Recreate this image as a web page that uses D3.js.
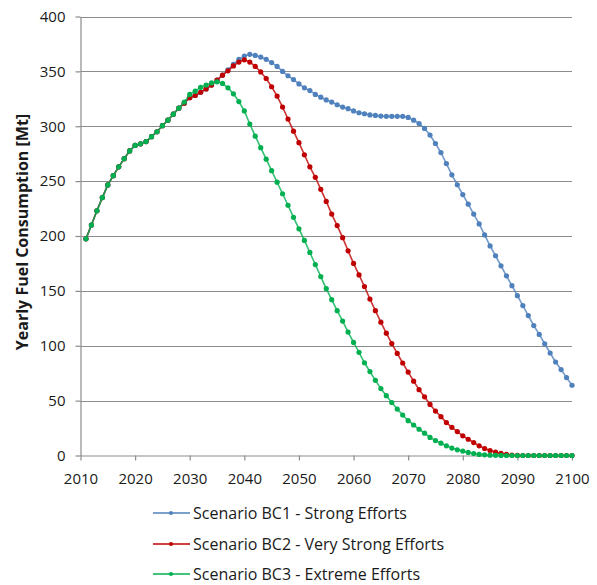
<!DOCTYPE html>
<html>
<head>
<meta charset="utf-8">
<script src="https://cdn.jsdelivr.net/npm/d3@7"></script>
<style>
  html, body { margin: 0; padding: 0; background: #fff; }
  svg text { font-family: "Open Sans", "Noto Sans", sans-serif; fill: #1a1a1a; }
</style>
</head>
<body>
<svg id="chart" width="597" height="585"></svg>
<script>
// ---------- data ----------
const years = d3.range(2011, 2101);

const seriesNames = [
  "Scenario BC1 - Strong Efforts",
  "Scenario BC2 - Very Strong Efforts",
  "Scenario BC3 - Extreme Efforts"
];

const bc1 = [
  197.4, 210, 223, 235, 246.5, 255, 263, 270.5, 277.5, 282.5,       // 2011-2020
  284, 286, 290.5, 295, 300.5, 305.5, 311, 316.5, 321, 326,         // 2021-2030
  328, 331, 334, 337.5, 342, 346.5, 351.5, 356.5, 361, 364,         // 2031-2040
  365.5, 364.5, 363, 361, 358, 354.5, 350, 346, 342.5, 338.6,       // 2041-2050
  335, 332.5, 329, 326.5, 324, 322, 319.6, 317.5, 316, 314,         // 2051-2060
  312.3, 311.4, 310.3, 309.9, 309.3, 309, 309, 309, 309, 308,       // 2061-2070
  305.5, 302.5, 298, 292, 284.3, 276, 266, 255.7, 246.7, 237.7,     // 2071-2080
  229, 220, 211, 201, 191, 182, 172.8, 163.7, 154.7, 145.6,         // 2081-2090
  136.6, 127.5, 118.4, 110.3, 101.8, 93.4, 85.2, 78.3, 71, 64       // 2091-2100
];

const bc2 = [
  197.4, 210, 223, 235, 246.5, 255, 263, 270.5, 277.5, 282.5,
  284, 286, 290.5, 295, 300.5, 305.5, 311, 316.5, 321, 326,
  328, 331, 334, 337.5, 342, 346.5, 350.5, 355, 358.5, 360.5,
  358.5, 354.5, 349.5, 343.5, 336, 327.5, 317.5, 306.5, 295.5, 285,
  274, 263, 253.5, 242.5, 231.5, 220, 209.5, 198.5, 186.5, 175,
  164.5, 154, 142.5, 132, 121.5, 111.5, 102, 93, 84.3, 76,
  67.7, 60, 53.5, 46.5, 40.5, 35.4, 30, 25.7, 21.8, 17.9,
  14.8, 11.8, 8.8, 6.4, 4.5, 3.0, 2.0, 1.0, 0.4, 0.1,
  0, 0, 0, 0, 0, 0, 0, 0, 0, 0
];

const bc3 = [
  197.4, 210, 223, 235, 246.5, 255, 263, 270.5, 277.5, 282.5,
  284, 286, 290.5, 295, 300.5, 305.5, 311, 316.5, 322, 329,
  332, 335.5, 337.5, 339.5, 340.5, 339, 335, 329.5, 322.5, 314,
  302, 291, 280.5, 270, 259.5, 249, 238.5, 228, 217, 206.5,
  196, 185, 174, 163, 152, 142, 132, 122.5, 112.5, 103,
  94, 84.5, 76.5, 68.5, 61, 54.5, 48.3, 42.3, 36.9, 31.7,
  27.8, 23.9, 20.3, 16.5, 13.6, 11.2, 8.8, 6.8, 5.2, 4.0,
  2.8, 1.8, 1.0, 0.6, 0.3, 0.2, 0.1, 0, 0, 0,
  0, 0, 0, 0, 0, 0, 0, 0, 0, 0
];

const xTicks = d3.range(2010, 2101, 10);
const yTicks = d3.range(0, 401, 50);
const yTitle = "Yearly Fuel Consumption [Mt]";
const colors = ["#4F81BD", "#C00000", "#00B050"];

// ---------- chart ----------
const svg = d3.select("#chart");
const x = d3.scaleLinear().domain([2010, 2100]).range([80.5, 572]);
const y = d3.scaleLinear().domain([0, 400]).range([455.5, 16.5]);

// gridlines
svg.append("g").selectAll("line").data(yTicks.filter(d => d > 0)).join("line")
  .attr("x1", x(2010)).attr("x2", x(2100))
  .attr("y1", d => Math.round(y(d)) + 0.5).attr("y2", d => Math.round(y(d)) + 0.5)
  .attr("stroke", "#8c8c8c").attr("stroke-width", 1.2);

// y axis
const yAxis = d3.axisLeft(y).tickValues(yTicks).tickSize(5).tickPadding(10).tickSizeOuter(0);
const gy = svg.append("g").attr("transform", `translate(${x(2010)},0)`).call(yAxis);
gy.select(".domain").attr("stroke", "#8c8c8c").attr("stroke-width", 1.2);
gy.selectAll(".tick line").attr("stroke", "#8c8c8c").attr("stroke-width", 1.2);
gy.selectAll(".tick text").attr("font-size", 15).attr("font-family", "Open Sans").attr("fill", "#1a1a1a");

// x axis
const xAxis = d3.axisBottom(x).tickValues(xTicks).tickFormat(d3.format("d")).tickSize(5).tickPadding(13).tickSizeOuter(0);
const gx = svg.append("g").attr("transform", `translate(0,${y(0)})`).call(xAxis);
gx.select(".domain").attr("stroke", "#8c8c8c").attr("stroke-width", 1.2);
gx.selectAll(".tick line").attr("stroke", "#8c8c8c").attr("stroke-width", 1.2);
gx.selectAll(".tick text").attr("font-size", 15).attr("font-family", "Open Sans").attr("fill", "#1a1a1a");

// y title
svg.append("text")
  .attr("transform", "translate(28,232) rotate(-90)")
  .attr("text-anchor", "middle")
  .attr("font-size", 16).attr("font-weight", "bold")
  .text(yTitle);

// series
const allSeries = [bc1, bc2, bc3];
const line = d3.line().x((d, i) => x(years[i])).y(d => y(d));
allSeries.forEach((vals, k) => {
  const g = svg.append("g");
  g.append("path").datum(vals)
    .attr("d", line)
    .attr("fill", "none")
    .attr("stroke", colors[k])
    .attr("stroke-width", 1.6)
    .attr("stroke-opacity", 0.8);
  g.selectAll("circle").data(vals).join("circle")
    .attr("cx", (d, i) => x(years[i]))
    .attr("cy", d => y(d))
    .attr("r", 2.6)
    .attr("fill", colors[k]);
});

// legend
const legend = svg.append("g");
const legendY = [513, 544, 574];
seriesNames.forEach((name, k) => {
  const row = legend.append("g").attr("transform", `translate(0,${legendY[k]})`);
  row.append("line").attr("x1", 153).attr("x2", 190).attr("y1", 0).attr("y2", 0)
    .attr("stroke", colors[k]).attr("stroke-width", 1.6);
  row.append("circle").attr("cx", 171).attr("cy", 0).attr("r", 2).attr("fill", colors[k]);
  row.append("text").attr("x", 193).attr("y", 5.5).attr("font-size", 16).text(name);
});
</script>
</body>
</html>
